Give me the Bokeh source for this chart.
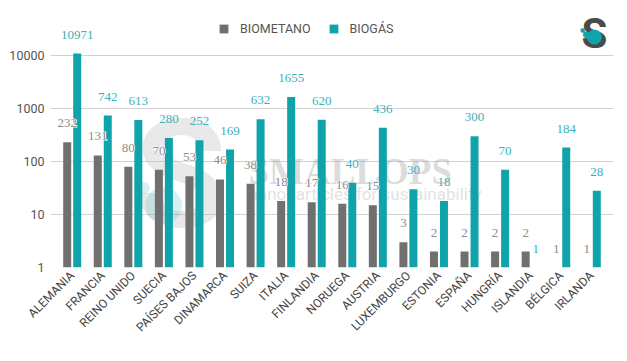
import math
from bokeh.plotting import figure
from bokeh.models import (FactorRange, Range1d, FixedTicker, NumeralTickFormatter,
                          ColumnDataSource, LabelSet, Legend, LegendItem, Label)
from bokeh.transform import dodge
from bokeh.embed import file_html
from bokeh.resources import INLINE

# ---------------- data ----------------
countries = ["ALEMANIA", "FRANCIA", "REINO UNIDO", "SUECIA", "PAÍSES BAJOS", "DINAMARCA",
             "SUIZA", "ITALIA", "FINLANDIA", "NORUEGA", "AUSTRIA", "LUXEMBURGO",
             "ESTONIA", "ESPAÑA", "HUNGRÍA", "ISLANDIA", "BÉLGICA", "IRLANDA"]
biometano = [232, 131, 80, 70, 53, 46, 38, 18, 17, 16, 15, 3, 2, 2, 2, 2, 1, 1]
biogas = [10971, 742, 613, 280, 252, 169, 632, 1655, 620, 40, 436, 30, 18, 300, 70, 1, 184, 28]
series_names = ["BIOMETANO", "BIOGÁS"]
y_ticks = [1, 10, 100, 1000, 10000]

# ---------------- style / layout ----------------
GREY = "#707070"
TEAL = "#11a3ac"
GREY_TXT = "#8c8c8c"
TEAL_TXT = "#3db1b9"
FONT = "Roboto"

W, H = 620, 355
ML, MR, MT, MB = 50, 7, 10, 88
frame_w = W - ML - MR
frame_h = H - MT - MB
PAD = 0.21                          # applied on each side of the factor range
n = len(countries)
unit = frame_w / (n + 2 * PAD)      # px per category
DEC = 52.95                         # px per decade
y_end = 10 ** (frame_h / DEC)
FRAME_LEFT = ML
FRAME_BOTTOM = H - MB


def px(xp, yp):
    """canvas pixel -> (synthetic x, log y) for decorations"""
    return (-PAD + (xp - FRAME_LEFT) / unit,
            10 ** ((FRAME_BOTTOM - yp) / DEC))


off = 5 / unit
bw = 8 / unit

src = ColumnDataSource(dict(
    country=countries,
    biometano=biometano,
    biogas=biogas,
    base=[1] * n,
    bl=[str(v) for v in biometano],
    gl=[str(v) for v in biogas],
))

p = figure(width=W, height=H,
           x_range=FactorRange(factors=countries, range_padding=PAD, range_padding_units="absolute"),
           y_range=Range1d(1, y_end), y_axis_type="log",
           output_backend="svg", toolbar_location=None,
           min_border_left=ML, min_border_right=MR, min_border_top=MT, min_border_bottom=MB)
p.outline_line_color = None
p.background_fill_color = "white"

# ---------------- watermark (under the bars) ----------------
wx, wy = px(180, 175)
p.add_layout(Label(x=wx, y=wy, text="S", text_font=FONT, text_font_style="bold",
                   text_font_size="150px", text_color="#b5b5b5", text_alpha=0.3,
                   text_align="center", text_baseline="middle", level="underlay"))
for (dx, dy, fs) in [(163, 200, "48px"), (143, 186, "16px")]:
    cx, cy = px(dx, dy)
    p.add_layout(Label(x=cx, y=cy, text="●", text_font="DejaVu Sans", text_font_size=fs,
                       text_color=TEAL, text_alpha=0.18, text_align="center",
                       text_baseline="middle", level="underlay"))
sx, sy = px(248, 171)
p.add_layout(Label(x=sx, y=sy, text="SMALLOPS", text_font="Liberation Serif",
                   text_font_style="bold", text_font_size="37px", text_color="#9a9a9a",
                   text_alpha=0.35, text_align="left", text_baseline="alphabetic", level="underlay"))
tx, ty = px(248, 193)
p.add_layout(Label(x=tx, y=ty, text="nanoparticles for sustainability", text_font=FONT,
                   text_font_size="17px", text_color="#a8a8a8", text_alpha=0.35,
                   text_align="left", text_baseline="alphabetic", level="underlay"))

# ---------------- bars ----------------
r1 = p.vbar(x=dodge("country", -off, range=p.x_range), bottom="base", top="biometano",
            width=bw, fill_color=GREY, line_color=None, source=src)
r2 = p.vbar(x=dodge("country", off, range=p.x_range), bottom="base", top="biogas",
            width=bw, fill_color=TEAL, line_color=None, source=src)

# white halo behind the grey value labels (they overlap the teal bars)
p.add_layout(LabelSet(x=dodge("country", -off, range=p.x_range), y="biometano", text="bl",
                      source=src, y_offset=15, text_align="center", text_baseline="alphabetic",
                      text_font=FONT, text_font_size="13px", text_font_style="bold",
                      text_color="white", text_outline_color="white"))
p.add_layout(LabelSet(x=dodge("country", -off, range=p.x_range), y="biometano", text="bl",
                      source=src, y_offset=15, text_align="center", text_baseline="alphabetic",
                      text_font=FONT, text_font_size="13px", text_color=GREY_TXT))
p.add_layout(LabelSet(x=dodge("country", off, range=p.x_range), y="biogas", text="gl",
                      source=src, y_offset=15, text_align="center", text_baseline="alphabetic",
                      text_font=FONT, text_font_size="13px", text_color=TEAL_TXT))

# ---------------- axes / grid ----------------
p.yaxis.ticker = FixedTicker(ticks=y_ticks)
p.yaxis.formatter = NumeralTickFormatter(format="0")
p.yaxis.axis_line_color = None
p.yaxis.major_tick_line_color = None
p.yaxis.minor_tick_line_color = None
p.yaxis.major_tick_out = 0
p.yaxis.major_tick_in = 0
p.yaxis.minor_tick_out = 0
p.yaxis.major_label_text_font = FONT
p.yaxis.major_label_text_font_size = "12.5px"
p.yaxis.major_label_text_color = "#555555"
p.yaxis.major_label_standoff = 6
p.ygrid.ticker = FixedTicker(ticks=y_ticks)
p.ygrid.grid_line_color = "#d2d2d2"
p.xgrid.grid_line_color = None

p.xaxis.axis_line_color = None
p.xaxis.major_tick_line_color = None
p.xaxis.minor_tick_line_color = None
p.xaxis.major_tick_out = 0
p.xaxis.major_tick_in = 0
p.xaxis.major_label_orientation = math.pi / 4
p.xaxis.major_label_text_font = FONT
p.xaxis.major_label_text_font_size = "12px"
p.xaxis.major_label_text_color = "#444444"
p.xaxis.major_label_standoff = 6

# ---------------- legend ----------------
legend = Legend(items=[LegendItem(label=series_names[0], renderers=[r1]),
                       LegendItem(label=series_names[1], renderers=[r2])],
                orientation="horizontal", location=(168, 231),
                glyph_width=11, glyph_height=11, label_height=11,
                label_standoff=11, spacing=17, padding=0, margin=0,
                label_text_font=FONT, label_text_font_size="12.5px",
                label_text_color="#555555",
                border_line_color=None, background_fill_alpha=0)
p.add_layout(legend)

# ---------------- logo ----------------
lx, ly = px(594, 33)
p.add_layout(Label(x=lx, y=ly, text="S", text_font=FONT, text_font_style="bold",
                   text_font_size="42px", text_color="#4a4a4a", text_align="center",
                   text_baseline="alphabetic"))
for (dx, dy, fs) in [(594, 34, "19px"), (586, 33, "9px"), (582, 29, "6px")]:
    cx, cy = px(dx, dy)
    p.add_layout(Label(x=cx, y=cy, text="●", text_font="DejaVu Sans", text_font_size=fs,
                       text_color=TEAL, text_align="center", text_baseline="middle"))

open("out.html", "w").write(file_html(p, INLINE))
